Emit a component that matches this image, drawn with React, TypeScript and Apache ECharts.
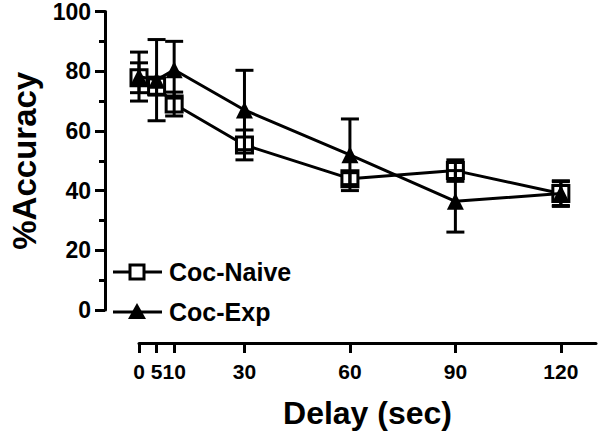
import React, { useEffect, useRef } from "react";
import * as echarts from "echarts";

const delays = [0, 5, 10, 30, 60, 90, 120];
const xTicks = [0, 5, 10, 30, 60, 90, 120];
const naiveMean = [77.8, 75, 69, 55.3, 44, 46.7, 39];
const naiveErr = [5, 3, 4, 5, 2, 3.6, 4.3];
const expMean = [78.2, 77, 80.5, 67, 52, 36.4, 39];
const expErr = [8.2, 13.6, 9.5, 13.3, 12, 10.3, 4];
const seriesNames = ["Coc-Naive", "Coc-Exp"];

const FONT = "'Liberation Sans', Arial, sans-serif";

export default function App() {
  const ref = useRef<HTMLDivElement>(null);
  useEffect(() => {
    if (!ref.current) return;
    const chart = echarts.init(ref.current, null, { renderer: "svg" });
    const errData = (m: number[], e: number[]) =>
      delays.map((d, i) => [d, m[i] - e[i], m[i] + e[i]]);
    const renderErr = (params: any, api: any) => {
      const x = api.value(0);
      const top = api.coord([x, api.value(2)]);
      const bot = api.coord([x, api.value(1)]);
      const hw = 9;
      const st = { stroke: "#000", lineWidth: 3 };
      return {
        type: "group",
        children: [
          { type: "line", shape: { x1: top[0], y1: top[1], x2: bot[0], y2: bot[1] }, style: st },
          { type: "line", shape: { x1: top[0] - hw, y1: top[1], x2: top[0] + hw, y2: top[1] }, style: st },
          { type: "line", shape: { x1: bot[0] - hw, y1: bot[1], x2: bot[0] + hw, y2: bot[1] }, style: st },
        ],
      };
    };
    const legendText = { fontFamily: FONT, fontSize: 25, fontWeight: "bold", fill: "#000" };
    const legendY = [272, 312];
    chart.setOption({
      animation: false,
      backgroundColor: "#fff",
      grid: { left: 128, right: 4, top: 10, bottom: 122 },
      graphic: [
        { type: "line", shape: { x1: 113, y1: legendY[0], x2: 162, y2: legendY[0] }, style: { stroke: "#000", lineWidth: 3 } },
        { type: "rect", shape: { x: 130, y: legendY[0] - 7, width: 14, height: 14 }, style: { fill: "#fff", stroke: "#000", lineWidth: 3 } },
        { type: "text", x: 169, y: legendY[0], style: { ...legendText, text: seriesNames[0], verticalAlign: "middle" } },
        { type: "line", shape: { x1: 113, y1: legendY[1], x2: 162, y2: legendY[1] }, style: { stroke: "#000", lineWidth: 3 } },
        { type: "polygon", shape: { points: [[137, legendY[1] - 9], [146, legendY[1] + 7], [128, legendY[1] + 7]] }, style: { fill: "#000" } },
        { type: "text", x: 169, y: legendY[1], style: { ...legendText, text: seriesNames[1], verticalAlign: "middle" } },
      ],
      xAxis: {
        type: "value",
        min: 0,
        max: 130,
        offset: 33,
        name: "Delay (sec)",
        nameLocation: "middle",
        nameGap: 54,
        nameTextStyle: { fontFamily: FONT, fontSize: 32, fontWeight: "bold", color: "#000" },
        axisLine: { show: true, onZero: false, lineStyle: { color: "#000", width: 3 } },
        axisTick: { show: true, customValues: xTicks, length: 10, lineStyle: { color: "#000", width: 3 } },
        axisLabel: {
          customValues: xTicks,
          margin: 18,
          fontFamily: FONT,
          fontSize: 21,
          fontWeight: "bold",
          color: "#000",
        },
        splitLine: { show: false },
      },
      yAxis: {
        type: "value",
        min: 0,
        max: 100,
        interval: 20,
        offset: 34,
        name: "%Accuracy",
        nameLocation: "middle",
        nameGap: 64,
        nameTextStyle: { fontFamily: FONT, fontSize: 33, fontWeight: "bold", color: "#000" },
        axisLine: { show: true, onZero: false, lineStyle: { color: "#000", width: 3 } },
        axisTick: { show: true, length: 10, lineStyle: { color: "#000", width: 3 } },
        minorTick: { show: true, splitNumber: 2, length: 6, lineStyle: { color: "#000", width: 3 } },
        axisLabel: { margin: 14, fontFamily: FONT, fontSize: 23, fontWeight: "bold", color: "#000" },
        splitLine: { show: false },
      },
      series: [
        {
          name: seriesNames[0],
          type: "line",
          data: delays.map((d, i) => [d, naiveMean[i]]),
          symbol: "rect",
          symbolSize: 16,
          lineStyle: { color: "#000", width: 3 },
          itemStyle: { color: "#fff", borderColor: "#000", borderWidth: 3 },
          z: 2,
        },
        {
          name: seriesNames[1],
          type: "line",
          data: delays.map((d, i) => [d, expMean[i]]),
          symbol: "triangle",
          symbolSize: 17,
          lineStyle: { color: "#000", width: 3 },
          itemStyle: { color: "#000", borderColor: "#000", borderWidth: 0 },
          z: 3,
        },
        {
          name: "naiveErr",
          type: "custom",
          renderItem: renderErr,
          data: errData(naiveMean, naiveErr),
          z: 4,
        },
        {
          name: "expErr",
          type: "custom",
          renderItem: renderErr,
          data: errData(expMean, expErr),
          z: 4,
        },
      ],
    });
    return () => chart.dispose();
  }, []);
  return <div ref={ref} style={{ width: 600, height: 434, position: "absolute", left: 0, top: 0 }} />;
}
